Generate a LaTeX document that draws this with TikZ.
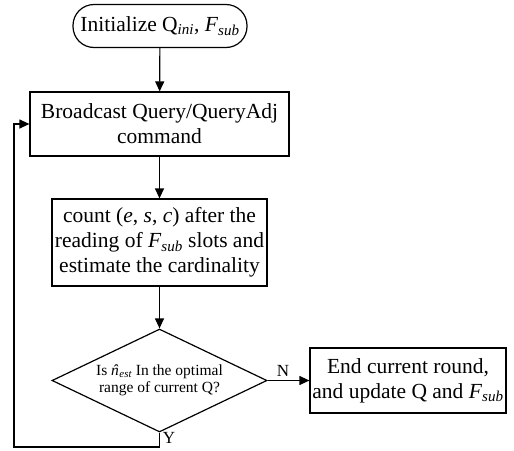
\documentclass[tikz,border=0pt]{standalone}
\usepackage{fontspec}
\setmainfont{Liberation Serif}
\usetikzlibrary{arrows.meta,shapes.geometric}
\newcommand{\sbit}[1]{\textsubscript{\itshape #1}}
\begin{document}
\begin{tikzpicture}[x=1pt,y=-1pt,
  every node/.style={font=\fontsize{21.5}{25}\selectfont},
  boxs/.style={draw,line width=1.2pt,rectangle,inner sep=0pt,align=center},
  dia/.style={draw,line width=1.2pt,diamond,aspect=2.09,inner sep=0pt,align=center,font=\fontsize{15.5}{17}\selectfont},
  lbl/.style={font=\fontsize{17}{20}\selectfont,inner sep=0pt},
  conn/.style={line width=1.2pt,-{Triangle[length=10pt,width=9pt]}},
  plain/.style={line width=1.2pt}]
\useasboundingbox (0,0) rectangle (514,450);
\node[boxs,rounded corners=21pt,minimum width=174pt,minimum height=43pt] (init) at (160,26) {Initialize Q\sbit{ini}, \textit{F}\sbit{sub}};
\node[boxs,minimum width=259pt,minimum height=64pt] (bc) at (159.5,124) {Broadcast Query/QueryAdj\\command};
\node[boxs,minimum width=215pt,minimum height=87pt] (cnt) at (159.5,242.5) {count (\textit{e}, \textit{s}, \textit{c}) after the\\reading of \textit{F}\sbit{sub} slots and\\estimate the cardinality};
\node[dia,minimum width=215pt,minimum height=103pt] (dec) at (159.5,380.5) {Is \textit{\accent"02C6 n}\kern0.5pt\sbit{est} In the optimal\\range of current Q?};
\node[boxs,minimum width=196pt,minimum height=65pt] (endb) at (408,380.5) {End current round,\\and update Q and \textit{F}\sbit{sub}};
\coordinate (bl) at (14,447);
\coordinate (br) at (159.5,447);
\draw[conn] (init) -- (bc);
\draw[conn] (bc) -- (cnt);
\draw[conn] (cnt) -- (dec);
\draw[conn] (dec.east) -- (endb.west);
\draw[conn] (dec.south) -- (br) -- (bl) |- (bc.west);
\node[lbl] (n) at (283,371) {N};
\node[lbl] (y) at (169,438) {Y};
\end{tikzpicture}
\end{document}
